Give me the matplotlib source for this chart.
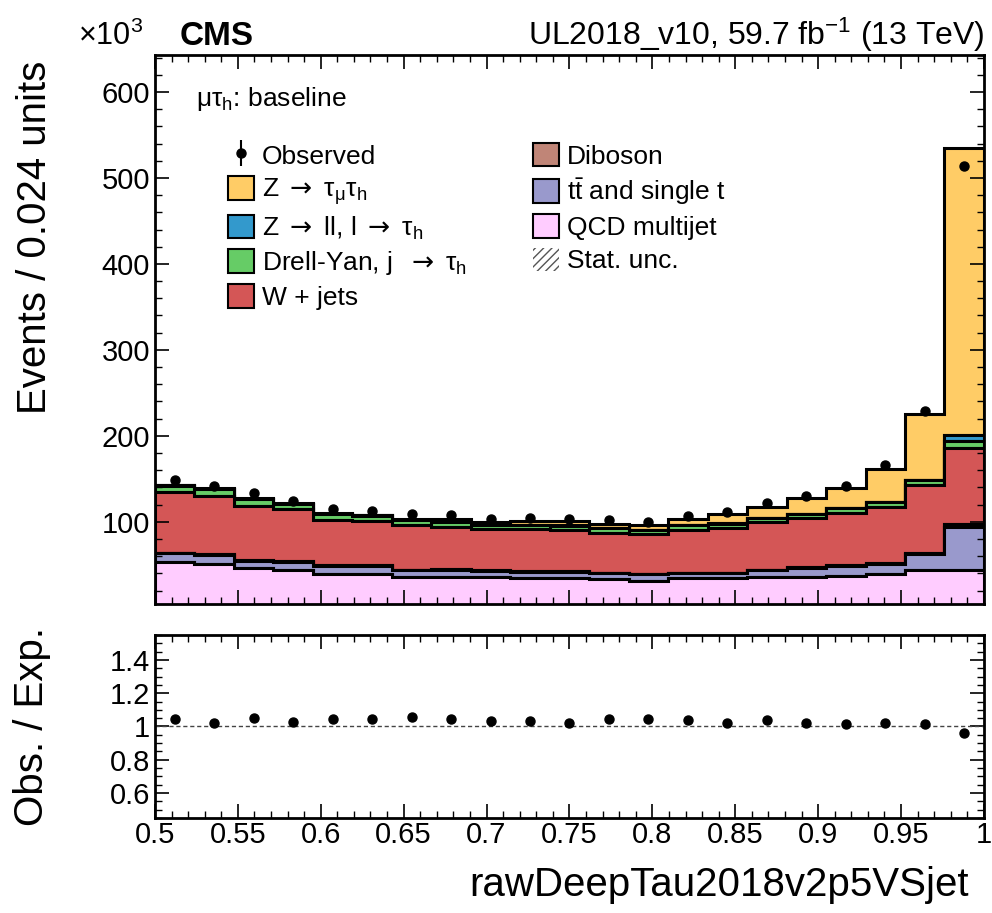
import numpy as np
import matplotlib
matplotlib.use('Agg')
import matplotlib.pyplot as plt
from matplotlib.patches import Patch
from matplotlib.ticker import MultipleLocator, FormatStrFormatter

plt.rcParams['font.family'] = ['Liberation Sans', 'DejaVu Sans']
plt.rcParams['mathtext.fontset'] = 'custom'
plt.rcParams['mathtext.rm'] = 'Liberation Sans'
plt.rcParams['mathtext.it'] = 'Liberation Sans:italic'
plt.rcParams['mathtext.sf'] = 'DejaVu Sans'
plt.rcParams['mathtext.default'] = 'regular'

# 21 bins in rawDeepTau2018v2p5VSjet, events in units of 10^3
bin_edges = np.linspace(0.5, 1.0, 22)

qcd = [53.4, 51.0, 46.4, 44.0, 39.0, 39.0, 36.3, 36.3, 36.3, 34.4, 34.4,
       33.2, 31.3, 34.4, 34.4, 36.0, 36.0, 37.1, 39.0, 44.0, 43.7]
ttbar = [10.0, 10.5, 8.1, 9.4, 9.7, 9.7, 7.4, 8.2, 6.6, 7.7, 7.7,
         7.0, 7.8, 5.8, 5.8, 7.7, 10.8, 11.6, 12.4, 18.3, 50.6]
diboson = [0.8, 0.8, 0.8, 0.8, 0.8, 0.8, 0.8, 0.8, 0.8, 0.8, 0.8,
           0.8, 0.8, 0.8, 0.8, 0.8, 0.8, 0.9, 1.0, 1.5, 3.5]
wjets = [70.4, 67.7, 63.0, 60.3, 52.5, 51.4, 51.4, 49.0, 48.3, 49.1, 47.2,
         46.4, 45.6, 49.5, 52.2, 55.3, 56.4, 61.1, 65.3, 78.9, 88.2]
dy_jtau = [7.6, 8.3, 8.2, 6.4, 7.2, 6.3, 6.6, 5.5, 4.8, 4.5, 5.5,
           4.9, 4.7, 5.3, 4.7, 4.9, 4.9, 5.2, 5.2, 5.6, 7.7]
zll = [0.3, 0.3, 0.3, 0.2, 0.2, 0.2, 0.2, 0.2, 0.2, 0.2, 0.3,
       0.3, 0.3, 0.3, 0.3, 0.3, 0.3, 0.3, 0.4, 0.6, 7.8]
ztt = [0.2, 0.2, 0.4, 0.3, 0.4, 0.5, 0.9, 3.6, 3.1, 4.2, 5.0,
       5.2, 5.4, 6.8, 10.5, 12.2, 18.0, 23.5, 38.5, 76.5, 333.5]
observed = [149.0, 142.0, 133.8, 124.5, 114.5, 112.5, 109.2, 108.0, 103.3, 104.0, 102.8,
            102.3, 100.2, 107.0, 111.0, 121.5, 130.2, 141.8, 165.6, 229.4, 514.0]

# stack order bottom -> top
stack = [qcd, ttbar, diboson, wjets, dy_jtau, zll, ztt]
colors = ['#ffccff', '#9999cc', '#c08577', '#d45656', '#66cc66', '#3399cc', '#ffcc66']
arrow = r' $\mathsf{\rightarrow}$ '
labels = ['QCD multijet', r'$t\bar{t}$ and single t', 'Diboson', 'W + jets',
          'Drell-Yan, j ' + arrow + 'τ$_{h}$', 'Z' + arrow + 'll, l' + arrow + 'τ$_{h}$',
          'Z' + arrow + 'τ$_{μ}$τ$_{h}$']

centers = 0.5 * (bin_edges[1:] + bin_edges[:-1])
total = np.sum(np.array(stack), axis=0)
obs = np.array(observed)
obs_err = np.sqrt(obs / 1e3)
ratio = obs / total
ratio_err = obs_err / total

fig = plt.figure(figsize=(9.92, 9.13), dpi=100)
ax = fig.add_axes([0.1562, 0.3385, 0.8357, 0.6013])
rax = fig.add_axes([0.1562, 0.1041, 0.8357, 0.2004])

ax.hist([centers] * len(stack), bins=bin_edges, weights=stack, stacked=True,
        histtype='stepfilled', color=colors, edgecolor='black', linewidth=2.2)
data = ax.errorbar(centers, obs, yerr=obs_err, fmt='o', color='black',
                   markersize=6.5, elinewidth=1.5, capsize=0)

ax.set_xlim(0.5, 1.0)
ax.set_ylim(4.5, 643)
ax.set_ylabel('Events / 0.024 units', fontsize=29, loc='top')
ax.yaxis.set_label_coords(-0.122, 0.99)
ax.tick_params(labelbottom=False)

rax.errorbar(centers, ratio, yerr=ratio_err, fmt='o', color='black',
             markersize=6.5, elinewidth=1.5, capsize=0)
rax.axhline(1.0, color='#444444', linestyle='--', linewidth=1.0, dashes=(3, 2))
rax.set_xlim(0.5, 1.0)
rax.set_ylim(0.45, 1.55)
rax.set_ylabel('Obs. / Exp.', fontsize=29)
rax.yaxis.set_label_coords(-0.125, 0.5)
rax.set_xlabel('rawDeepTau2018v2p5VSjet', fontsize=29, loc='right')
rax.xaxis.set_label_coords(0.982, -0.26)

for a in (ax, rax):
    a.tick_params(which='both', direction='in', top=True, right=True, labelsize=21)
    a.tick_params(which='major', length=10, width=1.2)
    a.tick_params(which='minor', length=5, width=1.0)
    a.xaxis.set_major_locator(MultipleLocator(0.05))
    a.xaxis.set_minor_locator(MultipleLocator(0.01))
    for s in a.spines.values():
        s.set_linewidth(2.0)
ax.yaxis.set_major_locator(MultipleLocator(100))
ax.yaxis.set_minor_locator(MultipleLocator(20))
rax.yaxis.set_major_locator(MultipleLocator(0.2))
rax.yaxis.set_minor_locator(MultipleLocator(0.05))
rax.yaxis.set_major_formatter(FormatStrFormatter('%g'))
rax.xaxis.set_major_formatter(FormatStrFormatter('%g'))
rax.tick_params(axis='x', pad=2)

# legend: two columns
h_stack = [Patch(facecolor=c, edgecolor='black', linewidth=1.5) for c in colors]
left_h = [data, h_stack[6], h_stack[5], h_stack[4], h_stack[3]]
left_l = ['Observed', labels[6], labels[5], labels[4], labels[3]]
right_h = [h_stack[2], h_stack[1], h_stack[0],
           Patch(facecolor='none', edgecolor='#555555', hatch='////', linewidth=0)]
right_l = ['Diboson', labels[1], labels[0], 'Stat. unc.']
leg_kw = dict(frameon=False, fontsize=19, handlelength=1.0, handleheight=1.0,
              handletextpad=0.3, labelspacing=0.28, borderpad=0, borderaxespad=0,
              loc='upper left')
leg1 = ax.legend(left_h, left_l, bbox_to_anchor=(0.088, 0.84), **leg_kw)
ax.add_artist(leg1)
ax.legend(right_h, right_l, bbox_to_anchor=(0.456, 0.84), **leg_kw)

ax.text(0.05, 0.92, 'μτ$_{h}$: baseline', transform=ax.transAxes, fontsize=19,
        va='center', ha='left')

fig.text(0.181, 0.951, 'CMS', fontsize=24, fontweight='bold', ha='left', va='baseline')
fig.text(0.079, 0.951, '×10$^{3}$', fontsize=22, ha='left', va='baseline')
fig.text(0.993, 0.951, 'UL2018_v10, 59.7 fb$^{-1}$ (13 TeV)', fontsize=23,
         ha='right', va='baseline')

fig.savefig('out.png', dpi=100)
